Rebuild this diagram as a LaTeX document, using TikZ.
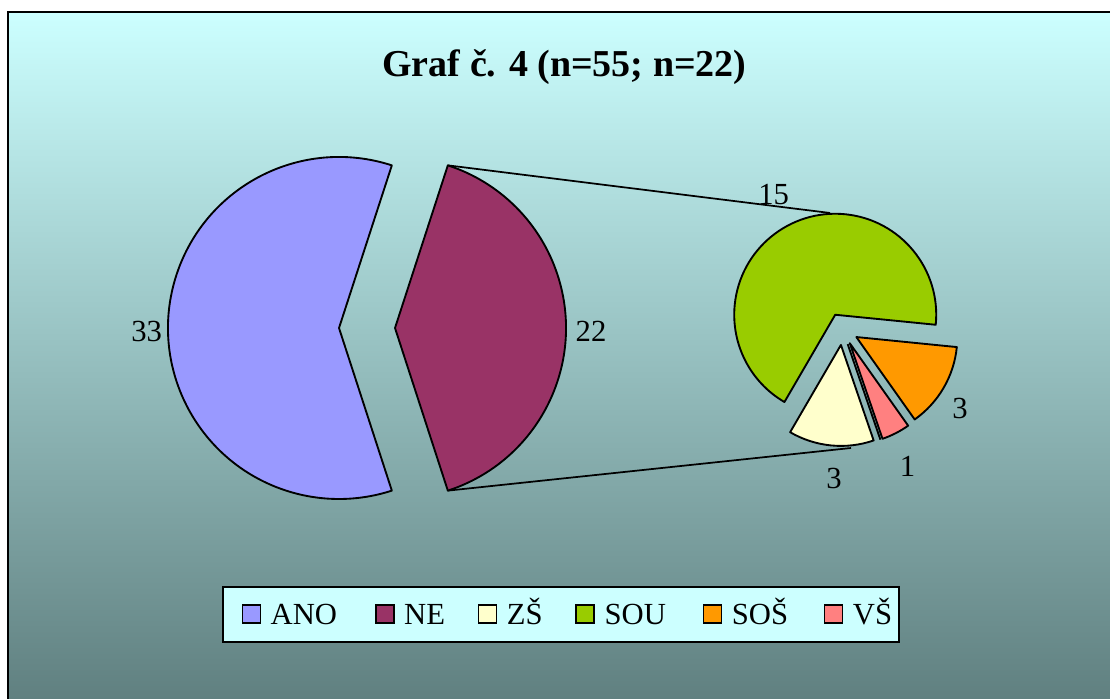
\documentclass[tikz,border=0pt]{standalone}
\usepackage{fontspec}
\setmainfont{Liberation Serif}
\usetikzlibrary{calc,positioning}
\definecolor{bgtop}{RGB}{204,255,255}
\definecolor{bgbot}{RGB}{96,128,128}
\definecolor{cano}{RGB}{153,153,255}
\definecolor{cne}{RGB}{153,51,102}
\definecolor{czs}{RGB}{255,255,204}
\definecolor{csou}{RGB}{153,204,0}
\definecolor{csos}{RGB}{255,153,0}
\definecolor{cvs}{RGB}{255,128,128}
\tikzset{slice/.style={draw=black,line width=1.4pt,line join=round}}
\tikzset{val/.style={inner sep=0pt,font=\fontsize{23}{24}\selectfont}}
\tikzset{key/.style={draw=black,line width=1.2pt,inner sep=0pt,minimum size=13.5pt}}
\tikzset{keytxt/.style={inner sep=0pt,text height=15.2pt,text depth=0pt,font=\fontsize{23}{24}\selectfont}}
\begin{document}
\begin{tikzpicture}[x=0.75pt,y=0.75pt]
\useasboundingbox (0,0) rectangle (1110,699);
\fill[white] (0,0) rectangle (1110,699);
\shade[top color=bgtop,bottom color=bgbot] (8,0) rectangle (1110,687);
\draw[line width=1.4pt] (1110,687) -- (8,687) -- (8,0);
\node (title) at (564.5,632) {\bfseries\fontsize{28.5}{30}\selectfont Graf č. 4 (n=55; n=22)};
\coordinate (ano) at (339,371);
\coordinate (ne) at (395,371);
\coordinate (c2) at (842.5,370);
\coordinate (sou) at ($(c2)+(117.05:16)$);
\coordinate (zs) at ($(c2)+(264.35:16)$);
\coordinate (nul) at ($(c2)+(288.9:16)$);
\coordinate (vs) at ($(c2)+(297.1:16)$);
\coordinate (sos) at ($(c2)+(329.8:16)$);
\coordinate (netop) at ($(ne)+(72:171)$);
\coordinate (nebot) at ($(ne)+(-72:171)$);
\coordinate (soutop) at (830,486);
\coordinate (zsbot) at (851,251);
\draw[line width=1.3pt] (netop)--(soutop) (nebot)--(zsbot);
\filldraw[slice,fill=cano] (ano) -- ++(72:171) arc[start angle=72,end angle=288,radius=171] -- cycle;
\filldraw[slice,fill=cne] (ne) -- ++(-72:171) arc[start angle=-72,end angle=72,radius=171] -- cycle;
\filldraw[slice,fill=csou] (sou) -- ++(-5.7:101) arc[start angle=-5.7,end angle=239.8,radius=101] -- cycle;
\filldraw[slice,fill=czs] (zs) -- ++(239.8:101) arc[start angle=239.8,end angle=288.9,radius=101] -- cycle;
\draw[slice] (nul) -- ++(288.9:101);
\filldraw[slice,fill=cvs] (vs) -- ++(288.9:101) arc[start angle=288.9,end angle=305.3,radius=101] -- cycle;
\filldraw[slice,fill=csos] (sos) -- ++(305.3:101) arc[start angle=305.3,end angle=354.3,radius=101] -- cycle;
\node (v33) at (146.7,367.3) [val] {33};
\node (v22) at (591,367.3) [val] {22};
\node (v15) at (773.7,504) [val] {15};
\node (vzs) at (834,220) [val] {3};
\node (vvs) at (907.5,232.3) [val] {1};
\node (vsos) at (960,290.2) [val] {3};
\node (leg) at (561,84.8) [draw=black,line width=1.3pt,fill=bgtop,minimum width=507pt,minimum height=41.25pt,inner sep=0pt] {};
\node (kano) at (251.3,84.8) [key,fill=cano] {};
\node (kne) at (384.8,84.8) [key,fill=cne] {};
\node (kzs) at (487.5,84.8) [key,fill=czs] {};
\node (ksou) at (585.2,84.8) [key,fill=csou] {};
\node (ksos) at (712.5,84.8) [key,fill=csos] {};
\node (kvs) at (833.5,84.8) [key,fill=cvs] {};
\node (tano) [keytxt,right=7pt of kano] {ANO};
\node (tne) [keytxt,right=7pt of kne] {NE};
\node (tzs) [keytxt,right=7pt of kzs] {ZŠ};
\node (tsou) [keytxt,right=7pt of ksou] {SOU};
\node (tsos) [keytxt,right=7pt of ksos] {SOŠ};
\node (tvs) [keytxt,right=7pt of kvs] {VŠ};
\end{tikzpicture}
\end{document}
